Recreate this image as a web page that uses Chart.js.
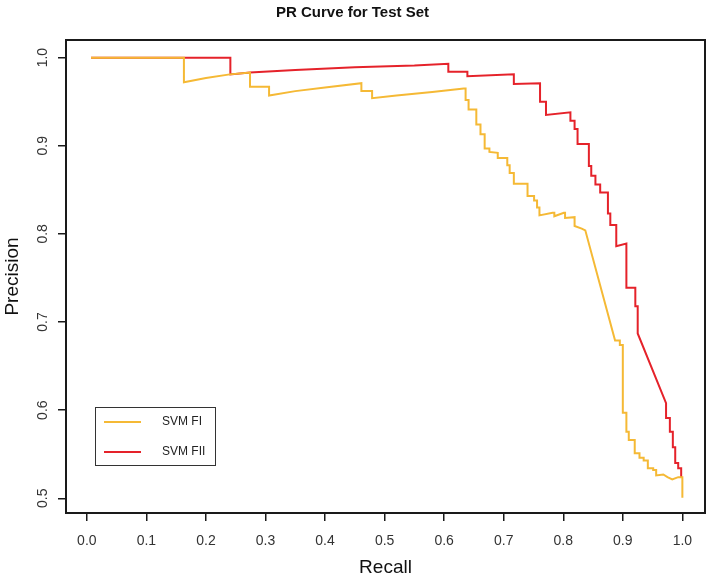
<!DOCTYPE html>
<html>
<head>
<meta charset="utf-8">
<script src="https://cdn.jsdelivr.net/npm/chart.js@4/dist/chart.umd.min.js"></script>
<style>
html,body{margin:0;padding:0;background:#fff;}
canvas{display:block;}
</style>
</head>
<body>
<canvas id="c" width="709" height="579"></canvas>
<script>
// ---- data ----
const chartTitle = 'PR Curve for Test Set';
const seriesNames = ['SVM FI', 'SVM FII'];
const xTicks = [0.0, 0.1, 0.2, 0.3, 0.4, 0.5, 0.6, 0.7, 0.8, 0.9, 1.0];
const yTicks = [0.5, 0.6, 0.7, 0.8, 0.9, 1.0];

const recallFI = [
  0.007, 0.163, 0.163, 0.20, 0.24, 0.274, 0.274, 0.306, 0.306, 0.35, 0.40, 0.461,
  0.461, 0.479, 0.479, 0.52, 0.58, 0.633, 0.636, 0.636, 0.641, 0.641, 0.654, 0.654,
  0.661, 0.661, 0.668, 0.668, 0.676, 0.676, 0.690, 0.690, 0.706, 0.706, 0.710, 0.710,
  0.717, 0.717, 0.740, 0.740, 0.751, 0.751, 0.756, 0.756, 0.760, 0.760, 0.782, 0.785,
  0.785, 0.801, 0.803, 0.803, 0.819, 0.819, 0.831, 0.837, 0.887, 0.895, 0.895, 0.900,
  0.900, 0.906, 0.906, 0.910, 0.910, 0.920, 0.920, 0.928, 0.928, 0.935, 0.935, 0.942,
  0.942, 0.951, 0.951, 0.956, 0.956, 0.968, 0.975, 0.983, 0.993, 1.000, 1.000
];
const precisionFI = [
  1.000, 1.000, 0.972, 0.977, 0.981, 0.983, 0.967, 0.967, 0.957, 0.962, 0.966, 0.971,
  0.962, 0.962, 0.954, 0.957, 0.961, 0.965, 0.965, 0.952, 0.952, 0.941, 0.941, 0.924,
  0.924, 0.913, 0.913, 0.897, 0.897, 0.893, 0.892, 0.886, 0.886, 0.878, 0.878, 0.869,
  0.869, 0.857, 0.857, 0.843, 0.843, 0.838, 0.838, 0.830, 0.830, 0.821, 0.824, 0.824,
  0.820, 0.824, 0.824, 0.818, 0.819, 0.809, 0.806, 0.804, 0.679, 0.679, 0.674, 0.674,
  0.597, 0.597, 0.5755, 0.5755, 0.566, 0.566, 0.551, 0.551, 0.546, 0.546, 0.543, 0.543,
  0.534, 0.534, 0.532, 0.532, 0.526, 0.527, 0.524, 0.5215, 0.524, 0.524, 0.5006
];

const recallFII = [
  0.007, 0.241, 0.241, 0.274, 0.35, 0.45, 0.55, 0.607, 0.607, 0.639, 0.639, 0.717,
  0.717, 0.761, 0.761, 0.771, 0.771, 0.812, 0.812, 0.819, 0.819, 0.824, 0.824, 0.843,
  0.843, 0.847, 0.847, 0.854, 0.854, 0.862, 0.862, 0.875, 0.875, 0.879, 0.879, 0.889,
  0.889, 0.906, 0.906, 0.921, 0.921, 0.925, 0.925, 0.9726, 0.9726, 0.979, 0.979, 0.984,
  0.984, 0.988, 0.988, 0.993, 0.993, 0.998, 0.998
];
const precisionFII = [
  1.000, 1.000, 0.981, 0.983, 0.986, 0.989, 0.991, 0.993, 0.984, 0.984, 0.979, 0.981,
  0.970, 0.971, 0.950, 0.950, 0.935, 0.938, 0.9285, 0.9285, 0.919, 0.919, 0.902, 0.902,
  0.877, 0.877, 0.866, 0.866, 0.856, 0.856, 0.847, 0.847, 0.823, 0.823, 0.810, 0.810,
  0.786, 0.789, 0.739, 0.739, 0.718, 0.718, 0.687, 0.608, 0.591, 0.591, 0.5755, 0.5755,
  0.558, 0.558, 0.540, 0.540, 0.534, 0.534, 0.524
];

// ---- chart ----
const FONT = '"Liberation Sans", Arial, Helvetica, sans-serif';
const toPts = (xs, ys) => xs.map((x, i) => ({x: x, y: ys[i]}));

const framePlugin = {
  id: 'frameAndLegend',
  afterDatasetsDraw(chart) {
    const ctx = chart.ctx;
    const a = chart.chartArea;
    ctx.save();
    ctx.strokeStyle = '#1a1a1a';
    ctx.lineWidth = 2;
    ctx.strokeRect(a.left, a.top, a.right - a.left, a.bottom - a.top);

    // legend box (bottom-left inside the plot)
    const bx = a.left + 29, by = a.top + 367, bw = 120, bh = 58;
    ctx.fillStyle = '#fff';
    ctx.fillRect(bx, by, bw, bh);
    ctx.strokeStyle = '#333';
    ctx.lineWidth = 1;
    ctx.strokeRect(bx + 0.5, by + 0.5, bw, bh);
    chart.data.datasets.forEach((ds, i) => {
      const ly = by + 15 + i * 30;
      ctx.strokeStyle = ds.borderColor;
      ctx.lineWidth = 2;
      ctx.beginPath();
      ctx.moveTo(bx + 9, ly);
      ctx.lineTo(bx + 46, ly);
      ctx.stroke();
      ctx.fillStyle = '#222';
      ctx.font = '12px ' + FONT;
      ctx.textBaseline = 'middle';
      ctx.textAlign = 'left';
      ctx.fillText(ds.label, bx + 67, ly);
    });
    ctx.restore();
  }
};

new Chart(document.getElementById('c'), {
  type: 'scatter',
  data: {
    datasets: [
      {
        label: seriesNames[0],
        data: toPts(recallFI, precisionFI),
        showLine: true, borderColor: '#F5B935', backgroundColor: '#F5B935',
        borderWidth: 2, pointRadius: 0, tension: 0
      },
      {
        label: seriesNames[1],
        data: toPts(recallFII, precisionFII),
        showLine: true, borderColor: '#E5222A', backgroundColor: '#E5222A',
        borderWidth: 2, pointRadius: 0, tension: 0
      }
    ]
  },
  options: {
    responsive: false,
    animation: false,
    devicePixelRatio: 1,
    layout: {padding: {left: 0, right: 4, top: 0, bottom: 0}},
    plugins: {
      legend: {display: false},
      tooltip: {enabled: false},
      title: {
        display: true, text: chartTitle, color: '#111',
        font: {family: FONT, size: 15, weight: 'bold'},
        padding: {top: 4, bottom: 18}
      }
    },
    scales: {
      x: {
        type: 'linear', min: -0.035, max: 1.038,
        afterBuildTicks: s => { s.ticks = xTicks.map(v => ({value: v})); },
        afterFit: s => { s.height = 66; },
        grid: {drawOnChartArea: false, drawTicks: true, tickLength: 8, color: '#1a1a1a', lineWidth: 1.5},
        border: {display: false},
        ticks: {
          autoSkip: false, maxRotation: 0, minRotation: 0, padding: 12, color: '#333',
          font: {family: FONT, size: 14},
          callback: v => Number(v).toFixed(1)
        },
        title: {display: true, text: 'Recall', color: '#111', font: {family: FONT, size: 19}, padding: {top: 0, bottom: 0}}
      },
      y: {
        type: 'linear', min: 0.4833, max: 1.02,
        afterBuildTicks: s => { s.ticks = yTicks.map(v => ({value: v})); },
        afterFit: s => { s.width = 66; },
        grid: {drawOnChartArea: false, drawTicks: true, tickLength: 8, color: '#1a1a1a', lineWidth: 1.5},
        border: {display: false},
        ticks: {
          autoSkip: false, minRotation: 90, maxRotation: 90, crossAlign: 'center', padding: 5, color: '#333',
          font: {family: FONT, size: 14},
          callback: v => Number(v).toFixed(1)
        },
        title: {display: true, text: 'Precision', color: '#111', font: {family: FONT, size: 19}, padding: {top: 1, bottom: 0}}
      }
    }
  },
  plugins: [framePlugin]
});
</script>
</body>
</html>
